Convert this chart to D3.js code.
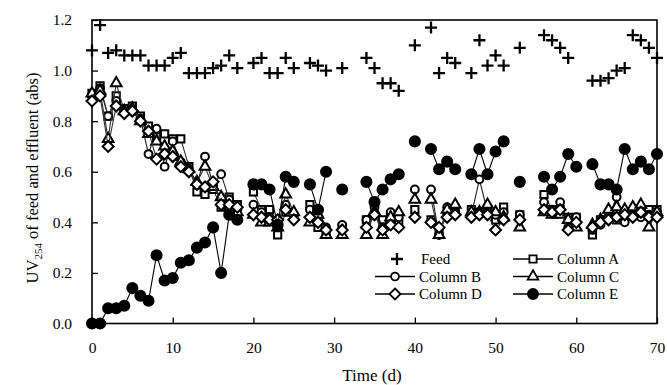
<!DOCTYPE html>
<html>
<head>
<meta charset="utf-8">
<script src="https://cdn.jsdelivr.net/npm/d3@7"></script>
<style>
  body { margin: 0; background: #fff; }
  svg { font-family: "Liberation Serif", "Times New Roman", serif; }
</style>
</head>
<body>
<svg id="chart" width="667" height="385"></svg>
<script>
// values indexed by day 0..70, null = no sample that day
const feed = [1.08,1.18,1.07,1.08,1.06,1.06,1.06,1.02,1.02,1.02,1.05,1.07,0.99,0.99,0.99,1.01,1.02,1.06,1.01,null,
  1.03,1.05,0.99,0.99,1.05,1.01,null,1.03,1.02,1.00,null,1.01,null,null,1.05,1.01,0.95,0.95,0.92,null,
  1.10,null,1.17,0.99,1.05,1.03,null,0.99,1.12,1.02,1.06,1.02,null,1.09,null,null,1.14,1.12,1.09,1.05,
  null,null,0.96,0.96,0.97,1.00,1.01,1.14,1.12,1.09,1.05];
const colA = [0.91,0.94,0.82,0.90,0.85,0.86,0.82,0.78,0.74,0.75,0.73,0.73,0.62,0.52,0.51,0.53,0.46,0.50,0.47,null,
  0.52,0.45,0.45,0.35,0.44,0.42,null,0.47,0.38,0.36,null,0.38,null,null,0.41,0.48,0.41,0.43,0.40,null,
  0.45,null,0.41,0.36,0.43,0.45,null,0.45,0.44,0.45,0.41,0.46,null,0.43,null,null,0.51,0.45,0.45,0.42,
  0.42,null,0.35,0.41,0.43,0.41,0.44,0.44,0.45,0.45,0.45];
const colB = [0.90,0.93,0.82,0.88,0.84,0.84,0.81,0.67,0.77,0.62,0.72,0.64,0.61,0.55,0.66,0.55,0.59,0.49,0.45,null,
  0.47,0.44,0.42,0.40,0.47,0.43,null,0.45,0.45,0.38,null,0.39,null,null,0.41,0.46,0.38,0.44,0.42,null,
  0.53,null,0.53,0.35,0.46,0.44,null,0.43,0.57,0.44,0.43,0.44,null,0.43,null,null,0.48,0.45,0.48,0.38,
  0.42,null,0.37,0.39,0.42,0.50,0.40,0.43,0.42,0.43,0.44];
const colC = [0.91,0.92,0.73,0.95,0.84,0.85,0.80,0.75,0.72,0.70,0.68,0.64,0.61,0.56,0.62,0.54,0.50,0.46,0.44,null,
  0.43,0.40,0.40,0.38,0.51,0.44,null,0.40,0.43,0.35,null,0.35,null,null,0.35,0.44,0.35,0.42,0.44,null,
  0.49,null,0.49,0.35,0.45,0.47,null,0.44,0.44,0.47,0.44,0.42,null,0.38,null,null,0.44,0.43,0.43,0.41,
  0.38,null,0.39,0.41,0.45,0.46,0.45,0.46,0.47,0.38,0.44];
const colD = [0.88,0.90,0.70,0.86,0.83,0.84,0.80,0.76,0.65,0.67,0.66,0.62,0.60,0.55,0.54,0.56,0.47,0.47,0.46,null,
  0.43,0.42,0.41,0.41,0.45,0.41,null,0.42,0.40,0.37,null,0.37,null,null,0.38,0.43,0.37,0.39,0.38,null,
  0.42,null,0.40,0.38,0.42,0.43,null,0.42,0.43,0.43,0.37,0.41,null,0.41,null,null,0.45,0.44,0.45,0.37,
  0.40,null,0.38,0.40,0.41,0.42,0.43,0.42,0.44,0.42,0.42];
const colE = [0.00,0.00,0.06,0.06,0.07,0.14,0.11,0.09,0.27,0.17,0.18,0.24,0.25,0.30,0.32,0.38,0.20,0.43,0.41,null,
  0.55,0.55,0.53,0.39,0.58,0.56,null,0.55,0.45,0.60,null,0.53,null,null,0.56,0.48,0.53,0.57,0.59,null,
  0.72,null,0.69,0.61,0.64,0.61,null,0.59,0.69,0.59,0.68,0.72,null,0.56,null,null,0.58,0.53,0.58,0.67,
  0.62,null,0.63,0.55,0.55,0.53,0.69,0.61,0.64,0.61,0.67];

const xTicks = [0, 10, 20, 30, 40, 50, 60, 70];
const yTicks = [0, 0.2, 0.4, 0.6, 0.8, 1.0, 1.2];

const svg = d3.select('#chart');
const x = d3.scaleLinear().domain([0, 70]).range([92, 657]);
const y = d3.scaleLinear().domain([0, 1.2]).range([323.5, 20]);

// marker shapes
const plusPath = 'M-6,0H6M0,-6V6';
const sq = d3.symbol().type(d3.symbolSquare).size(52)();
const circ = d3.symbol().type(d3.symbolCircle).size(48)();
const tri = d3.symbol().type(d3.symbolTriangle).size(50)();
const dia = 'M0,-5.5L5.5,0L0,5.5L-5.5,0Z';
const dot = d3.symbol().type(d3.symbolCircle).size(80)();

const series = [
  { name: 'Column A', vals: colA, shape: sq, fill: '#fff', line: '#333' },
  { name: 'Column B', vals: colB, shape: circ, fill: '#fff', line: '#222' },
  { name: 'Column C', vals: colC, shape: tri, fill: '#fff', line: '#333' },
  { name: 'Column D', vals: colD, shape: dia, fill: '#fff', line: '#333' },
  { name: 'Column E', vals: colE, shape: dot, fill: '#000', line: '#000' }
];

const line = d3.line()
  .defined(d => d.v != null)
  .x(d => x(d.t))
  .y(d => y(d.v));

// axes (ticks pointing inward)
svg.append('g')
  .attr('transform', `translate(0,${y(0)})`)
  .call(d3.axisBottom(x).tickValues(xTicks).tickSize(-6).tickPadding(18).tickFormat(d3.format('d')))
  .call(g => g.select('.domain').remove());
svg.append('g')
  .attr('transform', `translate(${x(0)},0)`)
  .call(d3.axisLeft(y).tickValues(yTicks).tickSize(-6).tickPadding(20).tickFormat(d3.format('.1f')))
  .call(g => g.select('.domain').remove());
svg.selectAll('.tick line').attr('stroke', '#000').attr('stroke-width', 1.3);
svg.selectAll('.tick text')
  .attr('font-family', '"Liberation Serif", serif')
  .attr('font-size', 15.5)
  .attr('fill', '#000');

// frame
svg.append('rect')
  .attr('x', x(0)).attr('y', y(1.2))
  .attr('width', x(70) - x(0)).attr('height', y(0) - y(1.2))
  .attr('fill', 'none').attr('stroke', '#000').attr('stroke-width', 1.6);

series.forEach(s => {
  const pts = s.vals.map((v, i) => ({ t: i, v }));
  svg.append('path')
    .datum(pts)
    .attr('d', line)
    .attr('fill', 'none')
    .attr('stroke', s.line)
    .attr('stroke-width', 1.1);
  svg.append('g').selectAll('path')
    .data(pts.filter(d => d.v != null))
    .join('path')
    .attr('d', s.shape)
    .attr('transform', d => `translate(${x(d.t)},${y(d.v)})`)
    .attr('fill', s.fill)
    .attr('stroke', '#000')
    .attr('stroke-width', 2);
});

// feed crosses
svg.append('g').selectAll('path')
  .data(feed.map((v, i) => ({ t: i, v })).filter(d => d.v != null))
  .join('path')
  .attr('d', plusPath)
  .attr('transform', d => `translate(${x(d.t)},${y(d.v)})`)
  .attr('stroke', '#000')
  .attr('stroke-width', 2.3);

// legend
const leg = [
  { name: 'Feed', shape: plusPath, fill: 'none', lx: 397, ly: 259, noLine: true },
  { name: 'Column A', shape: sq, fill: '#fff', lx: 533, ly: 259 },
  { name: 'Column B', shape: circ, fill: '#fff', lx: 395, ly: 276.5 },
  { name: 'Column C', shape: tri, fill: '#fff', lx: 533, ly: 276.5 },
  { name: 'Column D', shape: dia, fill: '#fff', lx: 395, ly: 294 },
  { name: 'Column E', shape: dot, fill: '#000', lx: 533, ly: 294 }
];
const lg = svg.append('g').selectAll('g').data(leg).join('g')
  .attr('transform', d => `translate(${d.lx},${d.ly})`);
lg.filter(d => !d.noLine).append('line')
  .attr('x1', -20).attr('x2', 20)
  .attr('stroke', '#000').attr('stroke-width', 1.3);
lg.append('path')
  .attr('d', d => d.shape)
  .attr('fill', d => d.fill)
  .attr('stroke', '#000')
  .attr('stroke-width', d => d.noLine ? 2.3 : 1.8);
lg.append('text')
  .attr('x', 24).attr('dy', '0.35em')
  .attr('font-size', 15)
  .text(d => d.name);

// axis titles
svg.append('text')
  .attr('x', 372).attr('y', 381)
  .attr('text-anchor', 'middle')
  .attr('font-size', 17)
  .text('Time (d)');

const yt = svg.append('text')
  .attr('transform', 'translate(38,178) rotate(-90)')
  .attr('text-anchor', 'middle')
  .attr('font-size', 16.5);
yt.append('tspan').text('UV');
yt.append('tspan').attr('font-size', 11).attr('dy', 4).text('254');
yt.append('tspan').attr('dy', -4).text(' of feed and effluent (abs)');
</script>
</body>
</html>
